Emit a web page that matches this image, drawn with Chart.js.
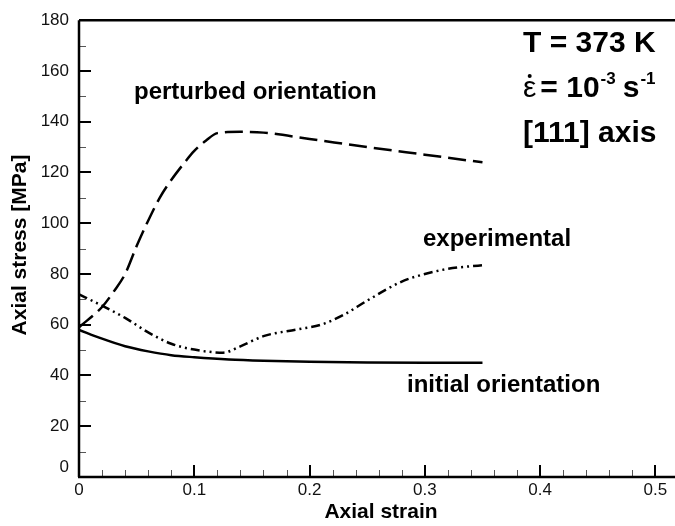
<!DOCTYPE html>
<html>
<head>
<meta charset="utf-8">
<script src="https://cdn.jsdelivr.net/npm/chart.js@4/dist/chart.umd.min.js"></script>
<style>
html,body{margin:0;padding:0;background:#fff;}
#wrap{width:675px;height:526px;position:relative;}
</style>
</head>
<body>
<div id="wrap"><canvas id="c" width="675" height="526"></canvas></div>
<script>
// ---- data ----
const initialStrain = [0, 0.02, 0.04, 0.06, 0.08, 0.10, 0.13, 0.16, 0.20, 0.25, 0.30, 0.35];
const initialStress = [58, 54.5, 51.5, 49.5, 48, 47.2, 46.3, 45.8, 45.4, 45.1, 45, 45];

const perturbedStrain = [0, 0.02, 0.03, 0.04, 0.05, 0.06, 0.07, 0.08, 0.09, 0.10, 0.11, 0.12, 0.14, 0.16, 0.20, 0.25, 0.30, 0.35];
const perturbedStress = [59, 67, 73, 80, 91, 101, 110, 117, 123, 128.5, 132.5, 135.5, 136, 135.7, 133.2, 130, 127, 124];

const expStrain = [0, 0.02, 0.04, 0.06, 0.08, 0.10, 0.125, 0.14, 0.16, 0.19, 0.21, 0.23, 0.25, 0.28, 0.30, 0.32, 0.35];
const expStress = [72, 67.5, 62.7, 57, 52.5, 50.2, 49, 51.5, 55.5, 58.2, 60, 64, 69.5, 77, 80, 82, 83.5];

const xTickValues = [0, 0.1, 0.2, 0.3, 0.4, 0.5];
const yTickValues = [0, 20, 40, 60, 80, 100, 120, 140, 160, 180];

const toPts = (xs, ys) => xs.map((x, i) => ({x: x, y: ys[i]}));

const FONT = "'Liberation Sans', Arial, sans-serif";

const framePlugin = {
  id: 'frame',
  afterDraw(chart) {
    const ctx = chart.ctx;
    const xs = chart.scales.x, ys = chart.scales.y;
    const a = chart.chartArea;
    ctx.save();
    // minor ticks
    ctx.lineWidth = 1;
    ctx.strokeStyle = '#555';
    for (let v = 0.02; v < 0.52; v += 0.02) {
      const r = Math.round(v * 100) / 100;
      if (Math.abs(r * 10 - Math.round(r * 10)) < 1e-6) continue;
      const px = Math.round(xs.getPixelForValue(r)) + 0.5;
      ctx.beginPath(); ctx.moveTo(px, a.bottom); ctx.lineTo(px, a.bottom - 7); ctx.stroke();
    }
    for (let v = 10; v < 180; v += 20) {
      const py = Math.round(ys.getPixelForValue(v)) + 0.5;
      ctx.beginPath(); ctx.moveTo(a.left, py); ctx.lineTo(a.left + 7, py); ctx.stroke();
    }
    // major ticks
    ctx.strokeStyle = '#000';
    ctx.lineWidth = 2;
    xTickValues.forEach(v => {
      const px = Math.round(xs.getPixelForValue(v));
      ctx.beginPath(); ctx.moveTo(px, a.bottom); ctx.lineTo(px, a.bottom - 12); ctx.stroke();
    });
    yTickValues.forEach(v => {
      const py = Math.round(ys.getPixelForValue(v));
      ctx.beginPath(); ctx.moveTo(a.left, py); ctx.lineTo(a.left + 12, py); ctx.stroke();
    });
    // frame lines
    ctx.lineWidth = 2.5;
    ctx.beginPath();
    ctx.moveTo(a.left, a.top); ctx.lineTo(675, a.top);
    ctx.moveTo(a.left, a.top); ctx.lineTo(a.left, a.bottom);
    ctx.moveTo(a.left - 1, a.bottom); ctx.lineTo(675, a.bottom);
    ctx.stroke();

    // y "0" label (shifted up)
    ctx.fillStyle = '#111';
    ctx.font = "17px " + FONT;
    ctx.textAlign = 'right'; ctx.textBaseline = 'middle';
    ctx.fillText('0', 69, ys.getPixelForValue(0) - 10);

    // axis titles
    ctx.fillStyle = '#000';
    ctx.font = "bold 21px " + FONT;
    ctx.textAlign = 'center'; ctx.textBaseline = 'middle';
    ctx.fillText('Axial strain', 381, 512);
    ctx.save();
    ctx.translate(20, 245);
    ctx.rotate(-Math.PI / 2);
    ctx.fillText('Axial stress [MPa]', 0, 0);
    ctx.restore();

    // curve labels
    ctx.textAlign = 'left';
    ctx.textBaseline = 'alphabetic';
    ctx.font = "bold 24px " + FONT;
    ctx.fillText('perturbed orientation', 134, 99);
    ctx.fillText('experimental', 423, 246);
    ctx.fillText('initial orientation', 407, 392);

    // condition block
    ctx.font = "bold 30px " + FONT;
    ctx.fillText('T = 373 K', 523, 52);
    ctx.fillText('[111] axis', 523, 142);
    // epsilon-dot line
    let x = 523; const yb = 97;
    ctx.font = "30px " + FONT;
    ctx.fillText('\u03B5', x, yb);
    const ew = ctx.measureText('\u03B5').width;
    ctx.beginPath(); ctx.arc(x + ew / 2, yb - 21, 2, 0, Math.PI * 2); ctx.fill();
    x += ew + 4;
    ctx.font = "bold 30px " + FONT;
    ctx.fillText('= 10', x, yb);
    x += ctx.measureText('= 10').width + 1;
    ctx.font = "bold 17px " + FONT;
    ctx.fillText('-3', x, yb - 13);
    x += ctx.measureText('-3').width + 7;
    ctx.font = "bold 30px " + FONT;
    ctx.fillText('s', x, yb);
    x += ctx.measureText('s').width + 1;
    ctx.font = "bold 17px " + FONT;
    ctx.fillText('-1', x, yb - 13);
    ctx.restore();
  }
};

new Chart(document.getElementById('c'), {
  type: 'line',
  data: {
    datasets: [
      {
        label: 'initial orientation',
        data: toPts(initialStrain, initialStress),
        borderColor: '#000', borderWidth: 2.5, pointRadius: 0,
        cubicInterpolationMode: 'monotone', fill: false
      },
      {
        label: 'perturbed orientation',
        data: toPts(perturbedStrain, perturbedStress),
        borderColor: '#000', borderWidth: 2.5, pointRadius: 0, borderDash: [18, 7],
        cubicInterpolationMode: 'monotone', fill: false
      },
      {
        label: 'experimental',
        data: toPts(expStrain, expStress),
        borderColor: '#000', borderWidth: 2.5, pointRadius: 0, borderDash: [9, 4, 2, 4, 2, 4],
        cubicInterpolationMode: 'monotone', fill: false
      }
    ]
  },
  options: {
    responsive: false,
    animation: false,
    devicePixelRatio: 1,
    layout: { padding: { top: 12, right: 0, left: 0, bottom: 0 } },
    plugins: { legend: { display: false }, tooltip: { enabled: false } },
    scales: {
      x: {
        type: 'linear', min: 0, max: 0.517,
        grid: { display: false, drawTicks: false },
        border: { display: false },
        afterBuildTicks: s => { s.ticks = xTickValues.map(v => ({value: v})); },
        afterFit: s => { s.height = 49; },
        ticks: {
          padding: 3, color: '#111',
          font: { family: FONT, size: 17 },
          maxRotation: 0, autoSkip: false,
          callback: v => String(v)
        }
      },
      y: {
        type: 'linear', min: 0, max: 180,
        grid: { display: false, drawTicks: false },
        border: { display: false },
        afterBuildTicks: s => { s.ticks = yTickValues.map(v => ({value: v})); },
        afterFit: s => { s.width = 79; },
        ticks: {
          padding: 10, color: '#111',
          font: { family: FONT, size: 17 },
          autoSkip: false,
          callback: v => v === 0 ? '' : String(v)
        }
      }
    }
  },
  plugins: [framePlugin]
});
</script>
</body>
</html>
